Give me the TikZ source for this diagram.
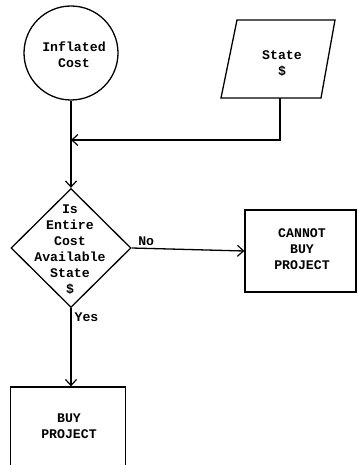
\documentclass[tikz,border=0pt]{standalone}
\usepackage{fontspec}
\setmonofont{Liberation Mono}
\usetikzlibrary{shapes.geometric,arrows.meta}
\begin{document}
\begin{tikzpicture}[x=1pt,y=-1pt,
  every node/.style={font=\ttfamily\bfseries\fontsize{13.2}{16}\selectfont, align=center, inner sep=0pt},
  outl/.style={draw, line width=1.3pt},
  conn/.style={line width=1.3pt, -{Straight Barb[length=6pt,width=11pt,line width=1.2pt]}},
  plain/.style={line width=1.3pt}]
\useasboundingbox (0,0) rectangle (357,465);
\node[outl, circle, minimum size=94pt] (infl) at (71,53) {};
\node at (74,55) {Inflated\\Cost};
\draw[outl, line join=miter] (237,20) -- (335,20) -- (321,98) -- (221,98) -- cycle;
\node (state) at (282,64) {State\\\$};
\coordinate (sb) at (280,98);
\coordinate (j) at (71,140);
\node[outl, diamond, minimum width=120pt, minimum height=119pt] (dec) at (71,248) {};
\node at (70,250) {Is\\Entire\\Cost\\Available\\State\\\$};
\node[outl, minimum width=115pt, minimum height=82pt] (buy) at (68,428) {};
\node[outl, minimum width=111pt, minimum height=82pt] (cannot) at (300.5,251) {};
\node at (302,249) {CANNOT\\BUY\\PROJECT};
\node at (69,426) {BUY\\PROJECT};
\draw[plain] (infl.south) -- (j);
\draw[conn] (sb) |- (j);
\draw[conn] (j) -- (dec.north);
\draw[conn] (dec.east) -- node[anchor=south west, pos=0, xshift=6pt, yshift=2pt] {No} (cannot.west);
\draw[conn] (dec.south) -- node[anchor=west, pos=0.12, xshift=3pt] {Yes} (dec.south |- buy.north);
\end{tikzpicture}
\end{document}
